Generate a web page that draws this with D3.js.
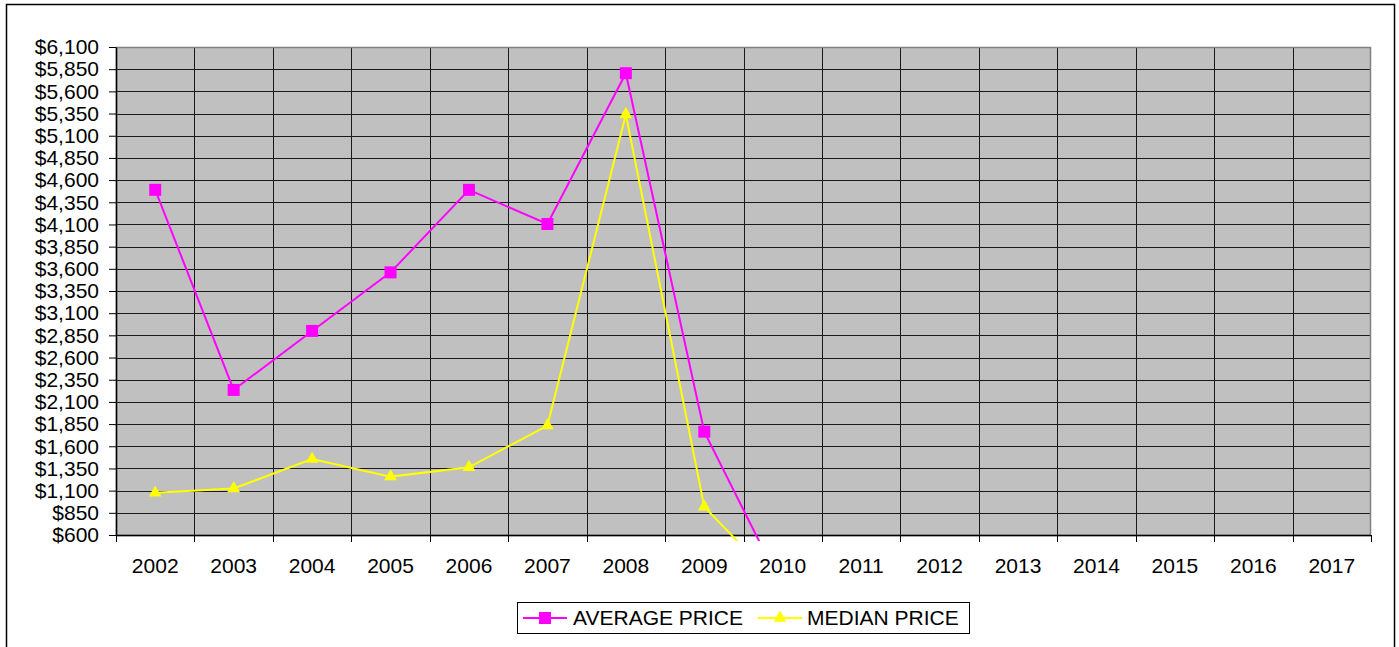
<!DOCTYPE html>
<html>
<head>
<meta charset="utf-8">
<script src="https://cdn.jsdelivr.net/npm/d3@7"></script>
<style>
  body { margin: 0; background: #fff; }
  svg { display: block; font-family: "Liberation Sans", Arial, sans-serif; }
</style>
</head>
<body>
<div id="chart"></div>
<script>
// data
var years = ["2002", "2003", "2004", "2005", "2006", "2007", "2008", "2009",
             "2010", "2011", "2012", "2013", "2014", "2015", "2016", "2017"];
var averagePrice = [4490, 2235, 2900, 3560, 4490, 4105, 5805, 1765, 0,
                    null, null, null, null, null, null, null];
var medianPrice = [1075, 1125, 1455, 1258, 1363, 1833, 5340, 918, 0,
                   null, null, null, null, null, null, null];
var yTicks = d3.range(600, 6101, 250);
var seriesNames = ["AVERAGE PRICE", "MEDIAN PRICE"];

var W = 1399, H = 647;
var margin = {top: 47, right: 28, bottom: 112, left: 116},
    width = W - margin.left - margin.right,
    height = H - margin.top - margin.bottom;
var fontSize = "21px";

var svg = d3.select("#chart").append("svg")
  .attr("width", W)
  .attr("height", H);

// outer chart border
svg.append("rect")
  .attr("x", 6.5).attr("y", 4.5)
  .attr("width", 1388).attr("height", 700)
  .attr("fill", "none")
  .attr("stroke", "#000")
  .attr("stroke-width", 1.5);

var g = svg.append("g")
  .attr("transform", "translate(" + margin.left + "," + margin.top + ")");

var x = d3.scaleBand().domain(years).range([0, width]).padding(0);
var y = d3.scaleLinear().domain([600, 6100]).range([height, 0]);

// plot background
g.append("rect")
  .attr("width", width).attr("height", height)
  .attr("fill", "#c0c0c0");

// horizontal gridlines
g.selectAll(".hgrid")
  .data(yTicks)
  .enter().append("line")
  .attr("class", "hgrid")
  .attr("x1", 0).attr("x2", width)
  .attr("y1", function(d) { return Math.round(y(d)) + 0.5; })
  .attr("y2", function(d) { return Math.round(y(d)) + 0.5; })
  .attr("stroke", "#1a1a1a").attr("stroke-width", 1);

// vertical gridlines at category boundaries
var bounds = years.slice(1).map(function(d) { return x(d); });
g.selectAll(".vgrid")
  .data(bounds)
  .enter().append("line")
  .attr("class", "vgrid")
  .attr("x1", function(d) { return Math.round(d) + 0.5; })
  .attr("x2", function(d) { return Math.round(d) + 0.5; })
  .attr("y1", 0).attr("y2", height)
  .attr("stroke", "#1a1a1a").attr("stroke-width", 1);

// plot border (gray top/right)
g.append("rect")
  .attr("x", 0.5).attr("y", 0.5)
  .attr("width", width - 1).attr("height", height)
  .attr("fill", "none")
  .attr("stroke", "#808080").attr("stroke-width", 1.5);

// y axis
var yAxis = d3.axisLeft(y)
  .tickValues(yTicks)
  .tickSize(7)
  .tickSizeOuter(0)
  .tickPadding(10)
  .tickFormat(function(d) { return "$" + d3.format(",")(d); });

var ya = g.append("g").attr("class", "y axis").call(yAxis);
ya.select(".domain").attr("stroke", "#000").attr("stroke-width", 1.5);
ya.selectAll("line").attr("stroke", "#000");
ya.selectAll("text").attr("fill", "#000").style("font-size", fontSize);

// x axis: ticks at boundaries, labels at centres
var xa = g.append("g").attr("class", "x axis")
  .attr("transform", "translate(0," + height + ")");
xa.append("line")
  .attr("x1", 0).attr("x2", width)
  .attr("y1", 0.5).attr("y2", 0.5)
  .attr("stroke", "#000").attr("stroke-width", 1.5);
xa.selectAll(".xtick")
  .data([0].concat(bounds).concat([width]))
  .enter().append("line")
  .attr("class", "xtick")
  .attr("x1", function(d) { return Math.round(d) + 0.5; })
  .attr("x2", function(d) { return Math.round(d) + 0.5; })
  .attr("y1", 0).attr("y2", 7)
  .attr("stroke", "#000");
xa.selectAll(".xlabel")
  .data(years)
  .enter().append("text")
  .attr("class", "xlabel")
  .attr("x", function(d) { return x(d) + x.bandwidth() / 2; })
  .attr("y", 38)
  .attr("text-anchor", "middle")
  .style("font-size", fontSize)
  .text(function(d) { return d; });

// clip so lines running below $600 stop just under the axis
g.append("clipPath").attr("id", "plotclip")
  .append("rect")
  .attr("x", 0).attr("y", 0)
  .attr("width", width).attr("height", height + 6);

var cx = function(d, i) { return x(years[i]) + x.bandwidth() / 2; };
var line = d3.line()
  .defined(function(d) { return d != null; })
  .x(cx)
  .y(function(d) { return y(d); });

var series = [
  {name: seriesNames[0], values: averagePrice, color: "#ff00ff", marker: d3.symbolSquare, size: 144},
  {name: seriesNames[1], values: medianPrice, color: "#ffff00", marker: d3.symbolTriangle, size: 72}
];

series.forEach(function(s) {
  var sg = g.append("g").attr("clip-path", "url(#plotclip)");
  sg.append("path")
    .datum(s.values)
    .attr("fill", "none")
    .attr("stroke", s.color)
    .attr("stroke-width", 2)
    .attr("d", line);
  sg.selectAll(".pt")
    .data(s.values.map(function(v, i) { return {v: v, i: i}; })
      .filter(function(d) { return d.v != null && d.v >= 600; }))
    .enter().append("path")
    .attr("class", "pt")
    .attr("transform", function(d) {
      return "translate(" + cx(d.v, d.i) + "," + y(d.v) + ")";
    })
    .attr("d", d3.symbol().type(s.marker).size(s.size))
    .attr("fill", s.color);
});

// legend
var lg = svg.append("g").attr("transform", "translate(517,602)");
lg.append("rect")
  .attr("x", 0.5).attr("y", 0.5)
  .attr("width", 452).attr("height", 31)
  .attr("fill", "#fff")
  .attr("stroke", "#000");

var legendX = [{line: 6, text: 56}, {line: 241, text: 290}];
series.forEach(function(s, i) {
  var lx = legendX[i].line;
  lg.append("line")
    .attr("x1", lx).attr("x2", lx + 44)
    .attr("y1", 16).attr("y2", 16)
    .attr("stroke", s.color).attr("stroke-width", 2);
  lg.append("path")
    .attr("transform", "translate(" + (lx + 22) + ",16)")
    .attr("d", d3.symbol().type(s.marker).size(s.size))
    .attr("fill", s.color);
  lg.append("text")
    .attr("x", legendX[i].text)
    .attr("y", 23)
    .style("font-size", fontSize)
    .text(s.name);
});
</script>
</body>
</html>
